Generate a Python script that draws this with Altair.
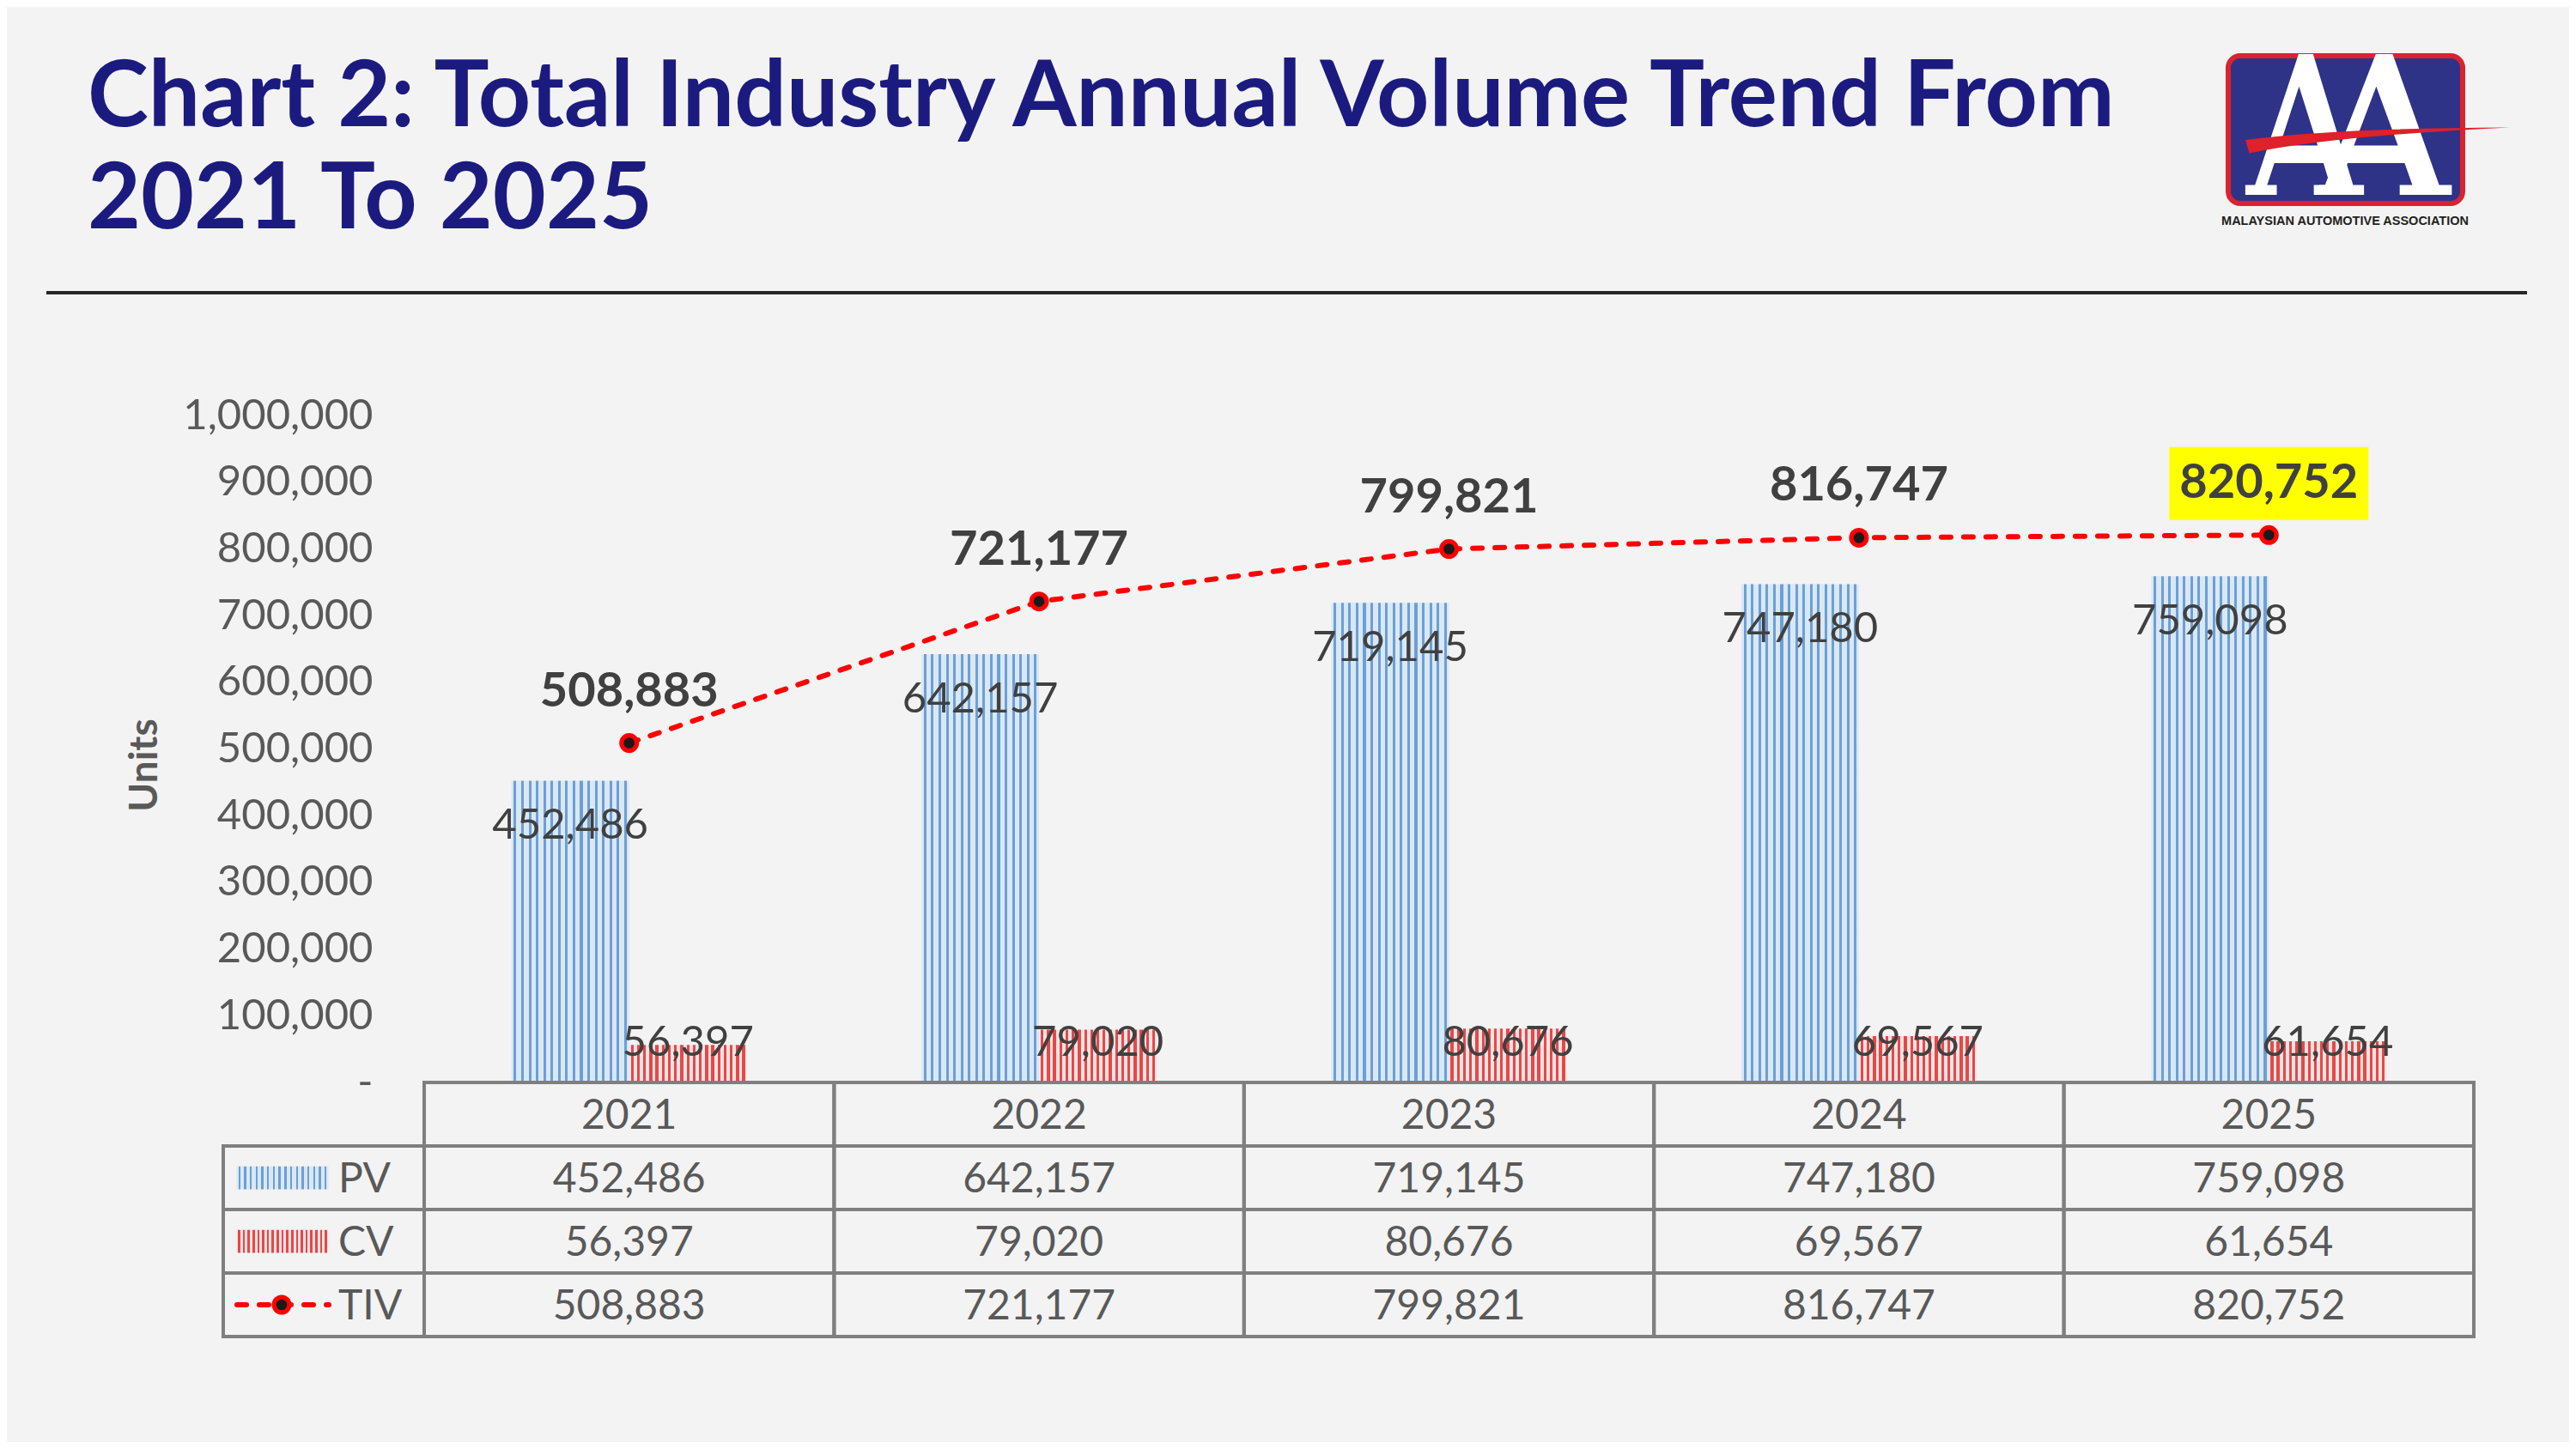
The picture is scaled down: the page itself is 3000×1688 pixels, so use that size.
import altair as alt
import pandas as pd

# ---------------- data ----------------
years = ["2021", "2022", "2023", "2024", "2025"]
pv_values = [452486, 642157, 719145, 747180, 759098]
cv_values = [56397, 79020, 80676, 69567, 61654]
tiv_values = [508883, 721177, 799821, 816747, 820752]
y_ticks = [0, 100000, 200000, 300000, 400000, 500000, 600000, 700000, 800000, 900000, 1000000]
series_names = ["PV", "CV"]
table_rows = ["Year", "PV", "CV", "TIV"]
highlight_year = "2025"
title_lines = ["Chart 2: Total Industry Annual Volume Trend From", "2021 To 2025"]
logo_text = "MALAYSIAN AUTOMOTIVE ASSOCIATION"
y_title = "Units"

# ---------------- style ----------------
FONT = "Lato"
TEXT_DARK = "#404040"
TEXT_GREY = "#595959"
GRID = "#7f7f7f"
RED = "#ff0000"
NAVY = "#1b1b7f"
BG = "#f3f3f3"

W, H = 2984, 1672
X_RANGE = [486, 2873]
Y_RANGE = [1253, 476]
T_RANGE = [1253, 1549]


def stripes(n, base, stripe, duty):
    stops = []
    for i in range(n):
        a = i / n
        m1 = (i + (1 - duty) / 2) / n
        m2 = (i + (1 + duty) / 2) / n
        c = (i + 1) / n
        for col, off in [(base, a), (base, m1), (stripe, m1), (stripe, m2), (base, m2), (base, c)]:
            stops.append(alt.GradientStop(color=col, offset=round(off, 5)))
    return alt.LinearGradient(gradient="linear", stops=stops, x1=0, x2=1, y1=0, y2=0)


PV_FILL = stripes(16, "#d9e8f6", "#6d9fd4", 0.36)
CV_FILL = stripes(19, "#fbe4e4", "#e64848", 0.46)


def poly(points, sx=1.0, dx=0.0):
    return "M " + " L ".join(f"{x * sx + dx:.3f} {y:.3f}" for x, y in points) + " Z"


A_OUTER = [(-0.10, -1), (0.14, -1), (0.80, 0.86), (0.98, 0.86), (0.98, 1), (0.24, 1), (0.24, 0.86),
           (0.42, 0.86), (0.31, 0.55), (-0.50, 0.55), (-0.62, 0.86), (-0.46, 0.86), (-0.46, 1),
           (-0.98, 1), (-0.98, 0.86), (-0.82, 0.86)]
A_HOLE = [(-0.093, -0.54), (-0.41, 0.30), (0.215, 0.30)]
A_LEFT = poly(A_OUTER, 0.86) + " " + poly(A_HOLE, 0.86)
A_RIGHT = poly(A_OUTER, 1.0) + " " + poly(A_HOLE, 1.0)
SWOOSH = "M -1 0.02 Q -0.35 -0.07 1 -0.075 Q -0.35 -0.01 -0.97 0.12 Z"
SWATCH = "M -1 -0.25 L 1 -0.25 L 1 0.25 L -1 0.25 Z"
HILITE = "M -1 -0.883 L 1 -0.883 L 1 -0.151 L -1 -0.151 Z"

# ---------------- tables ----------------
bars_df = pd.DataFrame({
    "year": years * 2,
    "series": ["PV"] * len(years) + ["CV"] * len(years),
    "value": pv_values + cv_values,
})
bars_df["label"] = [f"{v:,}" for v in bars_df["value"]]
tiv_df = pd.DataFrame({"year": years, "value": tiv_values,
                       "label": [f"{v:,}" for v in tiv_values]})

rows_values = {"PV": pv_values, "CV": cv_values, "TIV": tiv_values}
tab = []
for i, yr in enumerate(years):
    tab.append({"year": yr, "row": "Year", "label": yr})
    for r in ["PV", "CV", "TIV"]:
        tab.append({"year": yr, "row": r, "label": f"{rows_values[r][i]:,}"})
table_df = pd.DataFrame(tab)
legend_df = pd.DataFrame({"row": ["PV", "CV", "TIV"]})
one = pd.DataFrame({"k": [0]})

# ---------------- encodings ----------------
X = alt.X("year:N", sort=years,
          scale=alt.Scale(type="band", domain=years, range=X_RANGE, paddingInner=0, paddingOuter=0),
          axis=None)
XOFF = alt.XOffset("series:N", scale=alt.Scale(domain=series_names, paddingInner=0, paddingOuter=0.742))
YSCALE = alt.Scale(domain=[0, 1000000], range=Y_RANGE, nice=False, zero=True)
TSCALE = alt.Scale(type="band", domain=table_rows, range=T_RANGE, paddingInner=0, paddingOuter=0)


def YQ(field="value", axis=None):
    return alt.Y(f"{field}:Q", scale=YSCALE, axis=axis)


def YT():
    return alt.Y("row:N", scale=TSCALE, axis=None)


y_axis = alt.Axis(
    values=y_ticks,
    labelExpr="datum.value == 0 ? '-\u00a0\u00a0\u00a0' : format(datum.value, ',')",
    labelFont=FONT, labelFontSize=49, labelColor=TEXT_GREY, labelPadding=0, labelLimit=0,
    ticks=False, domain=False, grid=False, offset=-426,
    title=y_title, titleFont=FONT, titleFontSize=46, titleFontWeight="bold", titleColor=TEXT_GREY,
    titleAngle=270, titleBaseline="middle", titleX=-266, titleY=883,
)

layers = []

# title
for i, line in enumerate(title_lines):
    layers.append(alt.Chart(one).mark_text(text=line, font=FONT, fontSize=107, fontWeight="bold",
                                           color=NAVY, align="left", baseline="alphabetic")
                  .encode(x=alt.value(94), y=alt.value(139 + i * 119)))
layers.append(alt.Chart(one).mark_rule(color="#262626", strokeWidth=4)
              .encode(x=alt.value(46), x2=alt.value(2935), y=alt.value(333)))

# logo
layers.append(alt.Chart(one).mark_rect(fill="#2e3388", stroke="#d9232e", strokeWidth=6, cornerRadius=14)
              .encode(x=alt.value(2587), x2=alt.value(2860), y=alt.value(57), y2=alt.value(229)))
layers.append(alt.Chart(one).mark_point(shape=A_LEFT, size=164 * 164, filled=True, fill="#ffffff",
                                        strokeWidth=0, opacity=1)
              .encode(x=alt.value(2676), y=alt.value(137)))
layers.append(alt.Chart(one).mark_point(shape=A_RIGHT, size=164 * 164, filled=True, fill="#ffffff",
                                        strokeWidth=0, opacity=1)
              .encode(x=alt.value(2767), y=alt.value(137)))
layers.append(alt.Chart(one).mark_point(shape=SWOOSH, size=308 * 308, filled=True, fill="#e0202a",
                                        strokeWidth=0, opacity=1)
              .encode(x=alt.value(2761), y=alt.value(152)))
layers.append(alt.Chart(one).mark_text(text=logo_text, font="Liberation Sans", fontSize=14.5,
                                       fontWeight="bold", color="#231f20",
                                       align="center", baseline="alphabetic")
              .encode(x=alt.value(2723), y=alt.value(254)))

# bars
layers.append(alt.Chart(bars_df).transform_filter("datum.series == 'PV'")
              .mark_bar(color=PV_FILL, strokeWidth=0)
              .encode(x=X, xOffset=XOFF, y=YQ(axis=y_axis)))
layers.append(alt.Chart(bars_df).transform_filter("datum.series == 'CV'")
              .mark_bar(color=CV_FILL, strokeWidth=0)
              .encode(x=X, xOffset=XOFF, y=YQ()))

# bar labels
layers.append(alt.Chart(bars_df).transform_filter("datum.series == 'PV'")
              .mark_text(font=FONT, fontSize=49, color=TEXT_DARK, baseline="middle", dy=53)
              .encode(x=X, xOffset=XOFF, y=YQ(), text="label:N"))
layers.append(alt.Chart(bars_df).transform_filter("datum.series == 'CV'")
              .transform_calculate(base="0")
              .mark_text(font=FONT, fontSize=49, color=TEXT_DARK, baseline="middle", dy=-46)
              .encode(x=X, xOffset=XOFF, y=YQ("base"), text="label:N"))

# TIV line
layers.append(alt.Chart(tiv_df).mark_line(color=RED, strokeWidth=6, strokeDash=[11, 15], strokeCap="round")
              .encode(x=X, y=YQ()))
layers.append(alt.Chart(tiv_df).mark_point(filled=True, color=RED, size=530, opacity=1)
              .encode(x=X, y=YQ()))
layers.append(alt.Chart(tiv_df).mark_point(filled=True, color="#1a1a1a", size=160, opacity=1)
              .encode(x=X, y=YQ()))
layers.append(alt.Chart(tiv_df).transform_filter(f"datum.year == '{highlight_year}'")
              .mark_point(shape=HILITE, size=232 * 232, filled=True, fill="#ffff00", strokeWidth=0, opacity=1)
              .encode(x=X, y=YQ()))
layers.append(alt.Chart(tiv_df).mark_text(font=FONT, fontSize=56, fontWeight="bold", color=TEXT_DARK,
                                          baseline="middle", dy=-60)
              .encode(x=X, y=YQ(), text="label:N"))

# data table
layers.append(alt.Chart(table_df).mark_rect(fillOpacity=0, stroke=GRID, strokeWidth=4)
              .encode(x=X, y=YT()))
layers.append(alt.Chart(legend_df).mark_rect(fillOpacity=0, stroke=GRID, strokeWidth=4)
              .encode(x=alt.value(252), x2=alt.value(486), y=YT()))
layers.append(alt.Chart(table_df).mark_text(font=FONT, fontSize=48, color=TEXT_GREY, baseline="middle", dy=3)
              .encode(x=X, y=YT(), text="label:N"))
layers.append(alt.Chart(legend_df).mark_text(font=FONT, fontSize=48, color=TEXT_GREY, align="left",
                                             baseline="middle", dy=3)
              .encode(x=alt.value(386), y=YT(), text="row:N"))
layers.append(alt.Chart(legend_df).transform_filter("datum.row == 'PV'")
              .mark_point(shape=SWATCH, size=107 * 107, filled=True, fill=PV_FILL, strokeWidth=0, opacity=1)
              .encode(x=alt.value(321), y=YT()))
layers.append(alt.Chart(legend_df).transform_filter("datum.row == 'CV'")
              .mark_point(shape=SWATCH, size=107 * 107, filled=True, fill=CV_FILL, strokeWidth=0, opacity=1)
              .encode(x=alt.value(321), y=YT()))
layers.append(alt.Chart(legend_df).transform_filter("datum.row == 'TIV'")
              .mark_rule(color=RED, strokeWidth=6, strokeDash=[11, 15], strokeCap="round")
              .encode(x=alt.value(268), x2=alt.value(375), y=YT()))
layers.append(alt.Chart(legend_df).transform_filter("datum.row == 'TIV'")
              .mark_point(filled=True, color=RED, size=530, opacity=1)
              .encode(x=alt.value(320), y=YT()))
layers.append(alt.Chart(legend_df).transform_filter("datum.row == 'TIV'")
              .mark_point(filled=True, color="#1a1a1a", size=160, opacity=1)
              .encode(x=alt.value(320), y=YT()))

chart = (
    alt.layer(*layers)
    .resolve_scale(y="independent")
    .properties(width=W, height=H, padding=0, background=BG,
                autosize=alt.AutoSizeParams(type="none"))
    .configure_view(stroke=None)
)

chart.save("out.html", embed_options={"renderer": "svg", "actions": False})
